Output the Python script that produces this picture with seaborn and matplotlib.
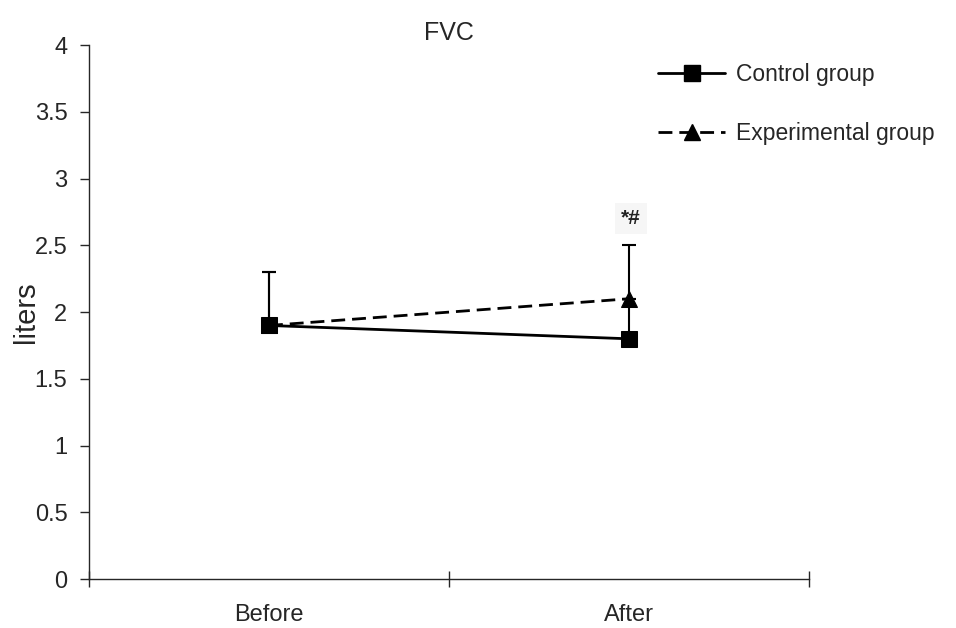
import pandas as pd
import matplotlib.pyplot as plt
import seaborn as sns
from matplotlib.lines import Line2D

# data
times = ['Before', 'After']
control = [1.9, 1.8]
experimental = [1.9, 2.1]
control_sd = [0.4, 0.3]
experimental_sd = [0.4, 0.4]
mark_text = '*#'

sns.set_style('ticks')
plt.rcParams['font.family'] = ['Liberation Sans', 'DejaVu Sans']

df = pd.DataFrame({
    'time': times * 2,
    'x': [0, 1, 0, 1],
    'liters': control + experimental,
    'group': ['Control group'] * 2 + ['Experimental group'] * 2,
})

fig = plt.figure(figsize=(9.56, 6.28), dpi=100)
ax = fig.add_axes([0.0931, 0.078, 0.753, 0.850])

# upward error bars
xs = [0, 1]
ax.errorbar(xs, experimental, yerr=[[0, 0], experimental_sd], fmt='none',
            ecolor='black', elinewidth=1.5, capsize=5, capthick=1.5, zorder=1)
ax.errorbar(xs, control, yerr=[[0, 0], control_sd], fmt='none',
            ecolor='black', elinewidth=1.5, capsize=5, capthick=1.5, zorder=1)

sns.lineplot(data=df, x='x', y='liters', hue='group', style='group',
             palette=['black', 'black'], dashes=[(1, 0), (5, 2.5)],
             markers=['s', '^'], markersize=11, linewidth=2,
             markeredgecolor='black', legend=False, ax=ax, zorder=3)

ax.text(1.005, 2.70, mark_text, ha='center', va='center', fontsize=15,
        fontweight='bold', color='#222222',
        bbox=dict(boxstyle='square,pad=0.3', facecolor='#f6f6f6',
                  edgecolor='none'))

ax.set_xlim(-0.5, 1.5)
ax.set_ylim(0, 4)
ax.set_yticks([0, 0.5, 1, 1.5, 2, 2.5, 3, 3.5, 4])
ax.set_yticklabels(['0', '0.5', '1', '1.5', '2', '2.5', '3', '3.5', '4'])
ax.set_xticks([-0.5, 0.5, 1.5])
ax.set_xticklabels([])
ax.set_xticks([0, 1], minor=True)
ax.set_xticklabels(times, minor=True)
ax.tick_params(axis='x', which='minor', length=0, pad=18, labelsize=17)
ax.tick_params(axis='x', which='major', length=11, direction='inout', width=1)
ax.tick_params(axis='y', length=6.5, width=1, labelsize=17, pad=9)
for side in ['top', 'right']:
    ax.spines[side].set_visible(False)
for side in ['left', 'bottom']:
    ax.spines[side].set_linewidth(1)

ax.set_xlabel('')
ax.set_ylabel('liters', fontsize=21, labelpad=-3.5)
ax.set_title('FVC', fontsize=18, pad=3)

handles = [
    Line2D([], [], color='black', linewidth=2, marker='s', markersize=11),
    Line2D([], [], color='black', linewidth=2, marker='^', markersize=11,
           dashes=(5, 2.5)),
]
fig.legend(handles, ['Control group', 'Experimental group'],
           loc='upper left', bbox_to_anchor=(0.667, 0.933), frameon=False,
           fontsize=16.5, handlelength=2.9, labelspacing=1.6, handletextpad=0.5)

fig.savefig('out.png', dpi=100)
